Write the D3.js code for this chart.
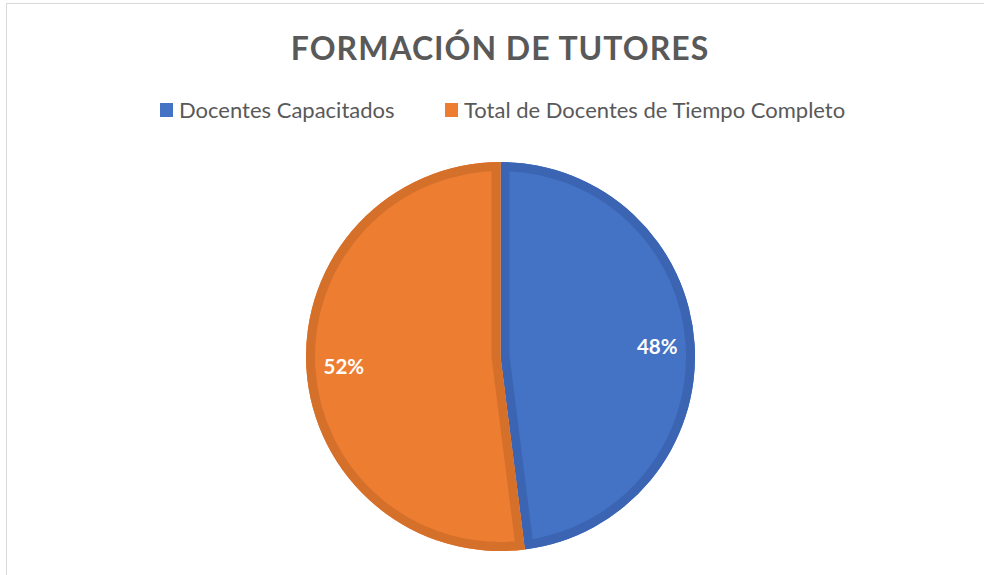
<!DOCTYPE html>
<html>
<head>
<meta charset="utf-8">
<script src="https://cdn.jsdelivr.net/npm/d3@7"></script>
<style>
  body { margin: 0; background: #fff; }
  text { font-family: Lato, "Open Sans", sans-serif; }
</style>
</head>
<body>
<svg></svg>
<script>
const categories = ["Docentes Capacitados", "Total de Docentes de Tiempo Completo"]
const values = [48, 52]
const fills = ["#4472C4", "#ED7D31"]
const borders = ["#3B65B3", "#D5702B"]

const width = 984, height = 575
const svg = d3.select("svg")
	.attr("width", width)
	.attr("height", height)

// chart area border (only top and left visible)
svg.append("rect")
	.attr("x", 6.5)
	.attr("y", 3.5)
	.attr("width", 1000)
	.attr("height", 1000)
	.attr("fill", "none")
	.attr("stroke", "#d9d9d9")

svg.append("text")
	.attr("x", 500)
	.attr("y", 60)
	.attr("text-anchor", "middle")
	.attr("font-size", 32)
	.attr("font-weight", "bold")
	.attr("fill", "#595959")
	.attr("letter-spacing", 1)
	.text("FORMACIÓN DE TUTORES")

// legend
const legendX = [160, 445]
const legend = svg.selectAll("g.legend")
	.data(categories)
	.enter()
	.append("g")
	.attr("class", "legend")
	.attr("transform", (d, i) => `translate(${legendX[i]}, 103)`)

legend.append("rect")
	.attr("width", 13)
	.attr("height", 14)
	.attr("fill", (d, i) => fills[i])

legend.append("text")
	.attr("x", 19)
	.attr("y", 15)
	.attr("font-size", 22)
	.attr("fill", "#595959")
	.text(d => d)

// pie
const cx = 500.5, cy = 356.5, r = 194.5
const pie = d3.pie().sort(null).value(d => d)
const arcs = pie(values)
const arc = d3.arc().innerRadius(0).outerRadius(r)
const labelArc = d3.arc().innerRadius(157).outerRadius(157)

const g = svg.append("g").attr("transform", `translate(${cx}, ${cy})`)
const defs = svg.append("defs")

defs.selectAll("clipPath")
	.data(arcs)
	.enter()
	.append("clipPath")
	.attr("id", (d, i) => "clip" + i)
	.append("path")
	.attr("d", arc)

const slices = g.selectAll("g.slice")
	.data(arcs)
	.enter()
	.append("g")
	.attr("class", "slice")

slices.append("path")
	.attr("d", arc)
	.attr("fill", (d, i) => fills[i])

// inner border, clipped to each slice
slices.append("path")
	.attr("d", arc)
	.attr("fill", "none")
	.attr("stroke", (d, i) => borders[i])
	.attr("stroke-width", 18)
	.attr("stroke-linejoin", "round")
	.attr("clip-path", (d, i) => `url(#clip${i})`)

slices.append("text")
	.attr("transform", d => `translate(${labelArc.centroid(d)})`)
	.attr("text-anchor", "middle")
	.attr("dy", "0.35em")
	.attr("font-size", 20.5)
	.attr("font-weight", "bold")
	.attr("fill", "#fff")
	.text(d => d.data + "%")
</script>
</body>
</html>
